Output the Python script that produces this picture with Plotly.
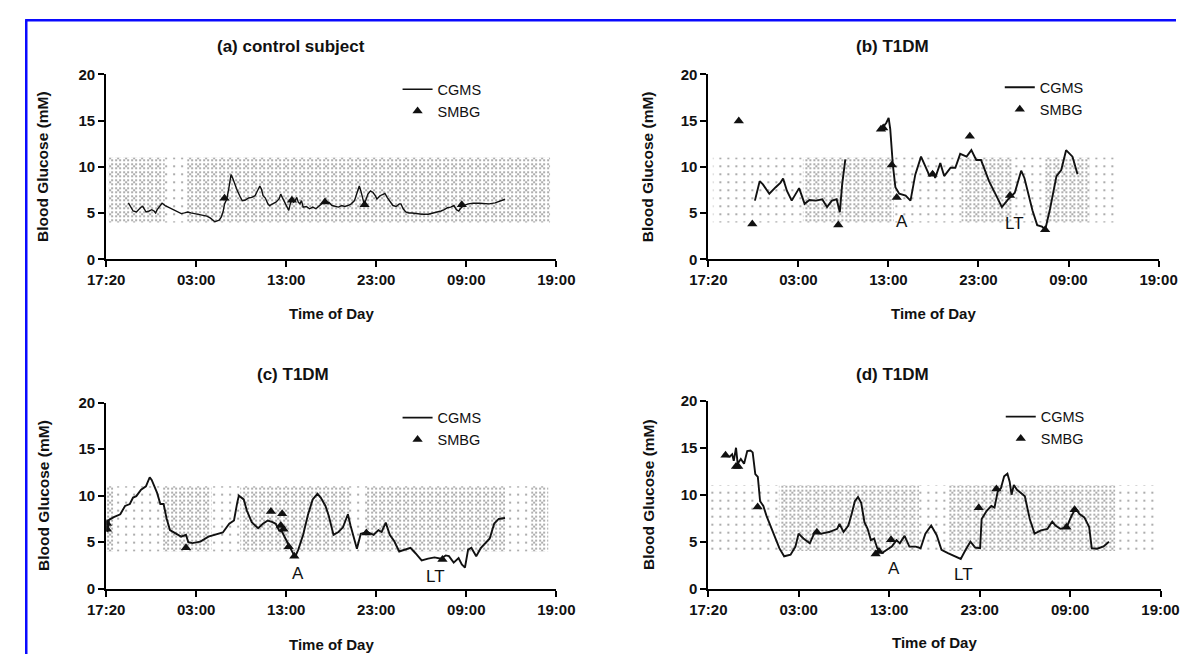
import plotly.graph_objects as go

FONT = "Liberation Sans, Arial, sans-serif"

# ---------------- data (hours after 17:20 on x, mM on y) ----------------
tick_hours = [0, 10, 20, 30, 40, 50]
tick_labels = ["17:20", "03:00", "13:00", "23:00", "09:00", "19:00"]
y_ticks = [0, 5, 10, 15, 20]

band_lo = 4.0
band_hi = 11.0

# panel (a) control subject
a_cgms_t = [2.47, 2.72, 3.0, 3.36, 3.64, 3.89, 4.07, 4.25, 4.43, 4.78, 5.07, 5.32, 5.49, 5.67, 6.03, 6.21,
            6.56, 6.92, 7.27, 7.63, 7.99, 8.34, 8.70, 9.06, 9.41, 9.77, 10.12, 10.48, 10.84, 11.19, 11.55,
            11.91, 12.08, 12.26, 12.55, 12.8, 12.98, 13.15, 13.4, 13.61, 13.76, 13.87, 14.04, 14.22, 14.4,
            14.58, 14.83, 15.11, 15.47, 15.82, 16.18, 16.54, 16.71, 16.89, 17.07, 17.25, 17.43, 17.68, 17.96,
            18.14, 18.5, 18.85, 19.21, 19.39, 19.56, 19.74, 19.92, 20.1, 20.28, 20.45, 20.63, 20.81, 20.99,
            21.17, 21.34, 21.52, 21.7, 21.88, 22.23, 22.59, 22.95, 23.3, 23.66, 24.02, 24.37, 24.73, 25.08,
            25.44, 25.8, 26.15, 26.51, 26.86, 27.22, 27.58, 27.86, 28.11, 28.29, 28.47, 28.65, 28.82, 29.07,
            29.36, 29.64, 29.89, 30.07, 30.42, 30.78, 30.96, 31.21, 31.49, 31.85, 32.2, 32.56, 32.74, 32.99,
            33.27, 33.63, 33.99, 34.34, 35.06, 35.77, 36.48, 37.2, 37.55, 37.91, 38.27, 38.62, 38.9, 39.16,
            39.33, 39.69, 40.22, 40.76, 41.47, 42.54, 43.2, 43.7, 44.3]
a_cgms_bg = [6.10, 5.65, 5.23, 5.12, 5.47, 5.65, 5.72, 5.37, 5.12, 5.23, 5.37, 5.23, 5.02, 5.37, 5.93, 6.07,
             5.82, 5.65, 5.47, 5.30, 5.12, 4.95, 5.02, 5.12, 5.02, 4.95, 4.88, 4.84, 4.77, 4.67, 4.49,
             4.25, 4.07, 4.14, 4.25, 4.6, 5.12, 6.0, 6.53, 7.58, 8.46, 9.16, 8.81, 8.28, 7.93,
             7.4, 6.88, 6.35, 6.42, 6.63, 6.7, 6.88, 7.23, 7.58, 7.93, 7.58, 6.88, 6.63, 6.0,
             5.82, 6.0, 6.18, 6.53, 7.05, 6.7, 6.35, 5.82, 5.65, 5.3, 6.0, 6.53, 6.18, 6.35,
             6.7, 6.18, 6.0, 6.35, 5.65, 5.72, 5.47, 5.65, 5.47, 5.82, 6.07, 6.18, 6.18, 5.82,
             5.72, 5.65, 5.82, 5.72, 5.82, 6.0, 6.35, 7.23, 7.93, 7.4, 6.53, 6.0, 6.35, 7.05,
             7.4, 7.23, 6.88, 6.53, 6.88, 7.05, 7.12, 6.7, 6.35, 5.82, 5.72, 6.0, 6.0, 5.47,
             5.12, 5.02, 5.02, 4.95, 4.88, 4.88, 5.02, 5.23, 5.37, 5.58, 5.65, 5.82, 5.37, 5.23,
             5.47, 5.82, 6.0, 6.07, 6.07, 6.0, 6.1, 6.3, 6.5]
a_smbg_t = [13.15, 20.63, 24.3, 28.7, 39.5]
a_smbg_bg = [6.6, 6.4, 6.2, 5.9, 5.9]
a_band_light = [(0.3, 49.3)]
a_band_dense = [(0.3, 6.5), (9.0, 49.3)]
a_notes = []

# panel (b) T1DM
b_cgms_t = [5.17, 5.70, 6.06, 6.77, 7.48, 8.02, 8.3, 8.73, 9.26, 10.08, 10.69, 11.22, 11.94, 12.65, 13.18,
            13.72, 14.25, 14.6, 14.86, 15.21, None,
            19.24, 19.77, 20.02, 20.2, 20.49, 20.77, 21.2, 21.91, 22.45, 22.98, 23.62, 24.05, 24.58, 24.94,
            25.19, 25.76, 26.19, 26.9, 27.43, 27.97, 28.68, 29.21, 29.75, 30.28, 31.17, 32.07, 32.6, 33.31,
            34.03, 34.74, 35.1, 35.99, 36.52, 37.05, 37.41, 37.95, 38.66, 39.19, 39.73, 40.44, 41.0]
b_cgms_bg = [6.35, 8.45, 8.1, 7.1, 7.8, 8.3, 8.74, 7.4, 6.35, 7.7, 6.0, 6.42, 6.35, 6.5, 5.65,
             6.35, 6.5, 5.1, 8.1, 10.8, None,
             14.07, 14.77, 15.3, 14.07, 10.2, 7.8, 7.1, 6.9, 6.35, 9.16, 11.1, 10.2, 9.0, 9.5,
             8.8, 10.4, 9.0, 9.9, 9.9, 11.4, 11.1, 11.8, 10.74, 10.74, 8.45, 6.7, 5.65, 6.5,
             7.2, 9.58, 8.8, 5.3, 3.7, 3.55, 3.2, 5.47, 9.0, 9.65, 11.8, 11.1, 9.2]
b_smbg_t = [3.38, 4.88, 14.43, 19.17, 19.42, 20.38, 20.92, 24.9, 29.04, 33.5, 37.4]
b_smbg_bg = [14.95, 3.82, 3.72, 14.07, 14.2, 10.2, 6.7, 9.2, 13.3, 6.9, 3.2]
b_band_light = [(0.5, 45.2)]
b_band_dense = [(10.5, 20.6), (28.1, 33.8), (37.4, 42.3)]
b_notes = [("A", 21.46, 4.1), ("LT", 33.98, 3.9)]

# panel (c) T1DM
c_cgms_t = [0.14, 0.32, 0.85, 1.57, 2.1, 2.63, 2.99, 3.35, 3.88, 4.42, 4.84, 5.06, 5.66, 6.02, 6.38, 6.73,
            7.09, 7.8, 8.33, 8.87, 9.12, 9.58, 10.47, 11.36, 12.25, 12.96, 13.67, 14.2, 14.56, 14.74, 15.28,
            15.63, 16.17, 16.88, 17.41, 17.95, 18.48, 18.84, 19.2, 19.55, 19.91, 20.27, 20.63, 20.98, 21.34,
            21.88, 22.4, 22.94, 23.47, 23.83, 24.36, 24.72, 25.25, 25.8, 26.3, 26.85, 27.14, 27.5, 27.85,
            28.28, 29.0, 29.7, 30.24, 30.6, 31.05, 31.5, 32.0, 32.55, 33.26, 33.8, 34.33, 35.04, 35.76,
            36.47, 37.18, 37.71, 38.07, 38.6, 39.14, 39.5, 39.85, 40.2, 40.56, 41.1, 41.63, 42.0, 42.6,
            43.1, 43.6, 44.3]
c_cgms_bg = [6.1, 7.4, 7.7, 8.0, 8.9, 9.1, 9.8, 9.95, 10.65, 11.0, 11.98, 11.7, 10.3, 9.1, 9.1, 7.5,
             6.3, 5.9, 5.6, 5.8, 5.0, 4.9, 5.06, 5.6, 5.83, 6.04, 6.98, 7.33, 9.25, 10.0, 9.6,
             8.4, 7.15, 6.5, 6.98, 7.33, 7.15, 6.98, 6.28, 6.1, 5.4, 4.7, 4.0, 3.4, 4.2,
             5.8, 7.9, 9.6, 10.2, 9.8, 8.9, 7.85, 5.8, 6.1, 6.6, 8.0, 6.8, 5.4, 4.3,
             5.9, 6.1, 5.8, 6.3, 6.1, 7.1, 5.8, 5.1, 4.0, 4.2, 4.4, 3.84, 3.05, 3.23,
             3.37, 3.23, 3.58, 3.5, 2.8, 3.3, 2.6, 2.27, 4.2, 4.4, 3.5, 4.4, 4.8, 5.4,
             7.0, 7.5, 7.6]
c_smbg_t = [0.1, 0.1, 8.87, 18.3, 19.55, 19.4, 19.7, 20.27, 20.9, 28.9, 37.35]
c_smbg_bg = [7.0, 6.4, 4.4, 8.3, 8.05, 6.8, 6.4, 4.5, 3.5, 6.0, 3.15]
c_band_light = [(0.0, 49.1)]
c_band_dense = [(0.0, 0.8), (6.2, 11.7), (14.9, 27.2), (28.8, 44.3), (47.2, 49.1)]
c_notes = [("A", 21.3, 1.6), ("LT", 36.6, 1.3)]

# panel (d) T1DM
d_cgms_t = [1.64, 1.99, 2.35, 2.63, 2.81, 3.06, 3.24, 3.59, 3.95, 4.3, 4.66, 4.9, 5.19, 5.47, 5.72, 6.08,
            6.43, 6.96, 7.5, 7.85, 8.38, 9.09, 9.63, 9.98, 10.51, 11.22, 11.76, 12.47, 13.36, 14.25, 14.5,
            14.95, 15.48, 15.84, 16.2, 16.55, 16.9, 17.26, 17.61, 17.97, 18.33, 18.68, 19.21, 19.74, 20.28,
            20.81, 21.17, 21.7, 22.23, 22.94, 23.47, 24.0, 24.64, 25.25, 25.78, 26.49, 27.2, 27.91, 28.45,
            28.98, 29.51, 30.05, 30.22, 30.76, 31.29, 31.64, 32.0, 32.35, 32.71, 33.07, 33.32, 33.53, 33.78,
            34.13, 34.67, 35.0, 35.54, 36.07, 36.78, 37.5, 38.03, 38.38, 38.92, 39.63, 40.16, 40.62, 41.05,
            41.58, 42.11, 42.4, 43.0, 43.7, 44.3]
d_cgms_bg = [14.3, 14.1, 14.05, 14.3, 13.6, 14.99, 13.3, 13.8, 13.3, 14.65, 14.7, 14.5, 12.2, 11.9, 9.3, 8.8,
             7.75, 6.37, 5.17, 4.31, 3.45, 3.62, 4.48, 5.86, 5.34, 4.83, 6.03, 5.86, 6.03, 6.37, 6.9,
             6.03, 6.72, 7.93, 9.31, 9.76, 9.14, 7.07, 6.37, 5.17, 5.34, 4.31, 3.79, 4.14, 4.48,
             5.17, 4.83, 5.62, 4.48, 4.48, 4.31, 5.86, 6.72, 5.69, 4.14, 3.79, 3.45, 3.17, 4.14,
             5.0, 4.38, 4.31, 7.41, 8.27, 8.8, 8.62, 10.34, 10.69, 11.96, 12.24, 11.38, 10.0, 11.03,
             10.52, 10.1, 9.83, 7.41, 5.86, 6.2, 6.37, 7.14, 6.72, 6.37, 6.55, 7.76, 8.52, 7.93,
             7.59, 6.55, 4.3, 4.25, 4.5, 5.0]
d_smbg_t = [1.9, 3.06, 3.3, 5.45, 12.0, 18.5, 18.86, 20.2, 29.9, 31.85, 39.6, 40.5]
d_smbg_bg = [14.2, 13.0, 13.0, 8.7, 6.0, 3.7, 3.96, 5.2, 8.6, 10.6, 6.55, 8.4]
d_band_light = [(0.0, 49.4)]
d_band_dense = [(7.8, 23.3), (26.5, 45.0)]
d_notes = [("A", 20.5, 2.2), ("LT", 28.2, 1.55)]

titles = ["(a) control subject", "(b) T1DM", "(c) T1DM", "(d) T1DM"]

# ---------------- layout geometry ----------------
W, H = 1195, 662
def px(x):
    return x / W
def py(y):
    return (H - y) / H

panels = [
    dict(title=titles[0], t=a_cgms_t, bg=a_cgms_bg, st=a_smbg_t, sb=a_smbg_bg, light=a_band_light,
         dense=a_band_dense, notes=a_notes, xd=[px(90), px(555)], yd=[py(257), py(67)], lw=1.4,
         tx=px(281), ty=py(38), ylx=px(25), xty=py(313), legx=px(391), legy=py(66)),
    dict(title=titles[1], t=b_cgms_t, bg=b_cgms_bg, st=b_smbg_t, sb=b_smbg_bg, light=b_band_light,
         dense=b_band_dense, notes=b_notes, xd=[px(712), px(1177)], yd=[py(257), py(67)], lw=1.9,
         tx=px(902), ty=py(38), ylx=px(649), xty=py(313), legx=px(1013), legy=py(64)),
    dict(title=titles[2], t=c_cgms_t, bg=c_cgms_bg, st=c_smbg_t, sb=c_smbg_bg, light=c_band_light,
         dense=c_band_dense, notes=c_notes, xd=[px(90), px(555)], yd=[py(595), py(404)], lw=1.9,
         tx=px(283), ty=py(375), ylx=px(25), xty=py(652), legx=px(391), legy=py(403)),
    dict(title=titles[3], t=d_cgms_t, bg=d_cgms_bg, st=d_smbg_t, sb=d_smbg_bg, light=d_band_light,
         dense=d_band_dense, notes=d_notes, xd=[px(712), px(1179)], yd=[py(595), py(402)], lw=1.9,
         tx=px(902), ty=py(375), ylx=px(650), xty=py(650), legx=px(1014), legy=py(402)),
]

fig = go.Figure()
annotations = []
layout = {}


def band_trace(segs, xa, ya, size, solidity, color):
    xs, ys = [], []
    for (s, e) in segs:
        xs += [s, e, e, s, s, None]
        ys += [band_lo, band_lo, band_hi, band_hi, band_lo, None]
    return go.Scatter(x=xs, y=ys, xaxis=xa, yaxis=ya, mode="lines", fill="toself",
                      fillcolor="rgba(0,0,0,0)", line=dict(width=0), showlegend=False, hoverinfo="skip",
                      fillpattern=dict(shape=".", size=size, solidity=solidity, fgcolor=color,
                                       bgcolor="rgba(0,0,0,0)"))


for i, p in enumerate(panels):
    n = "" if i == 0 else str(i + 1)
    xa, ya = "x" + n, "y" + n
    leg = "legend" + n
    fig.add_trace(band_trace(p["light"], xa, ya, 8, 0.06, "#333333"))
    fig.add_trace(band_trace(p["dense"], xa, ya, 4, 0.2, "#2a2a2a"))
    fig.add_trace(go.Scatter(x=p["t"], y=p["bg"], xaxis=xa, yaxis=ya, mode="lines", name="CGMS",
                             line=dict(color="#111111", width=p["lw"]), connectgaps=False, legend=leg))
    fig.add_trace(go.Scatter(x=p["st"], y=p["sb"], xaxis=xa, yaxis=ya, mode="markers", name="SMBG",
                             marker=dict(symbol="triangle-up", size=9, color="#111111"), legend=leg))

    layout["xaxis" + n] = dict(domain=p["xd"], anchor=ya, range=[0, 50], tickvals=tick_hours,
                               ticktext=tick_labels, showline=True, linecolor="black", linewidth=2,
                               ticks="outside", ticklen=6, tickwidth=2, tickcolor="black",
                               showgrid=False, zeroline=False, fixedrange=True,
                               tickfont=dict(family=FONT, size=15, color="#111", weight="bold"))
    layout["yaxis" + n] = dict(domain=p["yd"], anchor=xa, range=[0, 20], tickvals=y_ticks,
                               showline=True, linecolor="black", linewidth=2,
                               ticks="outside", ticklen=6, tickwidth=2, tickcolor="black",
                               showgrid=False, zeroline=False, fixedrange=True,
                               tickfont=dict(family=FONT, size=15, color="#111", weight="bold"))
    layout[leg] = dict(x=p["legx"], y=p["legy"], xanchor="left", yanchor="top", bgcolor="rgba(0,0,0,0)",
                       font=dict(family=FONT, size=14.5, color="#111"), itemwidth=30, tracegroupgap=0)

    annotations.append(dict(text="<b>%s</b>" % p["title"], x=p["tx"], y=p["ty"], xref="paper", yref="paper",
                            showarrow=False, font=dict(family=FONT, size=17, color="#111"),
                            xanchor="center", yanchor="middle"))
    annotations.append(dict(text="<b>Blood Glucose (mM)</b>", x=p["ylx"], y=sum(p["yd"]) / 2, xref="paper",
                            yref="paper", showarrow=False, textangle=-90,
                            font=dict(family=FONT, size=15.5, color="#111"), xanchor="center", yanchor="middle"))
    annotations.append(dict(text="<b>Time of Day</b>", x=sum(p["xd"]) / 2, y=p["xty"], xref="paper",
                            yref="paper", showarrow=False, font=dict(family=FONT, size=15, color="#111"),
                            xanchor="center", yanchor="middle"))
    for (lab, lx, lyv) in p["notes"]:
        annotations.append(dict(text=lab, x=lx, y=lyv, xref=xa, yref=ya, showarrow=False,
                                font=dict(family=FONT, size=17, color="#111"),
                                xanchor="center", yanchor="middle"))

shapes = [
    dict(type="line", xref="paper", yref="paper", x0=px(7.5), x1=px(7.5), y0=0, y1=py(11.5),
         line=dict(color="#0a0aff", width=2.5)),
    dict(type="line", xref="paper", yref="paper", x0=px(6.3), x1=1, y0=py(11.5), y1=py(11.5),
         line=dict(color="#0a0aff", width=2.5)),
]

fig.update_layout(width=W, height=H, margin=dict(l=0, r=0, t=0, b=0), paper_bgcolor="white",
                  plot_bgcolor="white", annotations=annotations, shapes=shapes, **layout)

fig.write_html("out.html", config={"displayModeBar": False},
               post_script="document.body.style.margin='0';")
